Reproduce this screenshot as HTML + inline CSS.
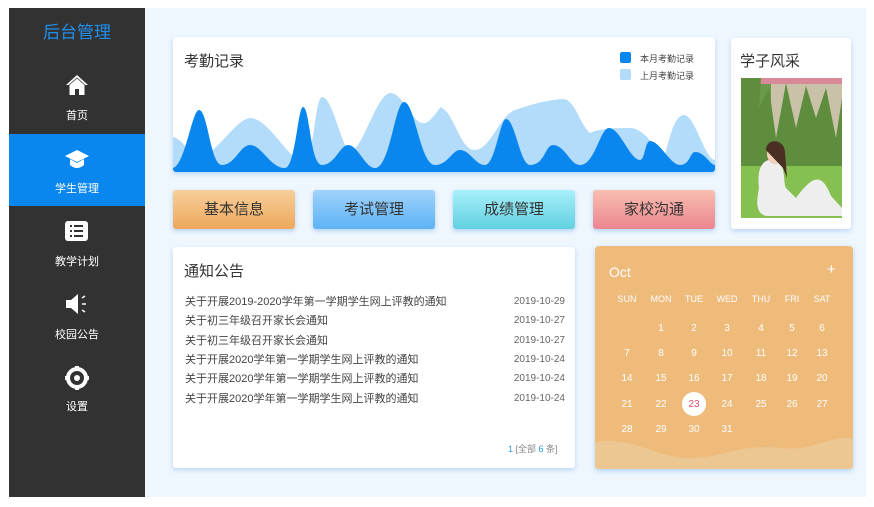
<!DOCTYPE html>
<html><head><meta charset="utf-8"><style>
*{margin:0;padding:0;box-sizing:border-box}
body{width:874px;height:507px;background:#fff;position:relative;overflow:hidden;font-family:"Liberation Sans","Noto Sans CJK SC",sans-serif}
.a{position:absolute}
#side{left:9px;top:8px;width:136px;height:489px;background:#323232}
#main{left:145px;top:8px;width:721px;height:489px;background:#eef6fe}
.card{background:#fff;border-radius:3px;box-shadow:0 2px 5px rgba(120,180,230,.45)}
.nav{position:absolute;left:0;width:136px;text-align:center;color:#fff;font-size:11px}
.btn{position:absolute;top:190px;width:122px;height:39px;border-radius:3px;text-align:center;line-height:39px;font-size:15px;color:#333;box-shadow:0 2px 4px rgba(120,180,230,.5)}
.row{position:absolute;left:185px;width:380px;font-size:11px;line-height:14px;color:#444}
.row span{position:absolute;right:0;top:0;color:#666;font-size:10px;line-height:14px}
.cal{position:absolute;color:#fff;font-size:10px;text-align:center;width:30px}
</style></head><body>
<div id="side" class="a">
 <div class="a" style="left:0;top:10px;width:136px;text-align:center;color:#1e8ff0;font-size:17px">后台管理</div>
 <svg class="a" style="left:56px;top:66px" width="24" height="22" viewBox="0 0 24 22"><path d="M12 1 L1 11 L3.5 11 L12 3.5 L20.5 11 L23 11Z" fill="#fff"/><path d="M4.5 11 L12 4.5 L19.5 11 V21 H14 V15 H10 V21 H4.5Z" fill="#fff"/></svg>
 <div class="nav" style="top:99px">首页</div>
 <div class="a" style="left:0;top:126px;width:136px;height:72px;background:#0a87ee"></div>
 <svg class="a" style="left:55px;top:140px" width="26" height="24" viewBox="0 0 26 24"><path d="M13 2 L25 8 L13 14 L1 8Z" fill="#fff"/><path d="M6 11 V17 Q13 23 20 17 V11 L13 15Z" fill="#fff"/></svg>
 <div class="nav" style="top:172px">学生管理</div>
 <div class="a" style="left:56px;top:213px;width:23px;height:20px;background:#fff;border-radius:3px"></div>
 <svg class="a" style="left:56px;top:213px" width="23" height="20"><g fill="#323232"><rect x="5" y="4" width="2" height="2"/><rect x="9" y="4" width="9" height="2"/><rect x="5" y="9" width="2" height="2"/><rect x="9" y="9" width="9" height="2"/><rect x="5" y="14" width="2" height="2"/><rect x="9" y="14" width="9" height="2"/></g></svg>
 <div class="nav" style="top:245px">教学计划</div>
 <svg class="a" style="left:56px;top:285px" width="24" height="22"><path d="M1 7 H6 L13 1 V21 L6 15 H1Z" fill="#fff"/><path d="M17 5 L20 3 M17 11 H21 M17 17 L20 19" stroke="#fff" stroke-width="1.5"/></svg>
 <div class="nav" style="top:318px">校园公告</div>
 <svg class="a" style="left:55px;top:357px" width="26" height="26" viewBox="0 0 26 26"><circle cx="13" cy="13" r="9" fill="none" stroke="#fff" stroke-width="4"/><circle cx="13" cy="13" r="3" fill="#fff"/><g stroke="#fff" stroke-width="4"><path d="M13 1 V5 M13 21 V25 M1 13 H5 M21 13 H25"/></g></svg>
 <div class="nav" style="top:390px">设置</div>
</div>
<div id="main" class="a"></div>

<div class="a card" style="left:173px;top:37px;width:542px;height:135px;overflow:hidden">
 <div class="a" style="left:11px;top:13px;font-size:15px;color:#333">考勤记录</div>
 <div class="a" style="left:447px;top:15px;width:11px;height:11px;border-radius:2px;background:#0a87ee"></div>
 <div class="a" style="left:467px;top:15px;font-size:9px;color:#444">本月考勤记录</div>
 <div class="a" style="left:447px;top:32px;width:11px;height:11px;border-radius:2px;background:#b3dcfa"></div>
 <div class="a" style="left:467px;top:32px;font-size:9px;color:#444">上月考勤记录</div>
 <svg class="a" style="left:0;top:0" width="542" height="135" viewBox="173 37 542 135">
  <path d="M173 137 C185 140 190 158 200 158 C220 150 235 120 250 118 C270 118 290 165 305 160 C315 150 315 98 322 97 C332 97 340 140 348 150 C360 160 375 95 390 93 C405 92 415 135 430 120 C440 110 440 105 442 108 C455 115 460 150 475 150 C490 150 500 115 515 110 C530 105 545 100 563 99 C575 99 580 125 590 133 C600 128 620 128 630 128 C645 128 655 150 665 155 C670 135 675 115 684 115 C695 115 705 160 715 160 V172 H173Z" fill="#b3dcfa"/>
  <path d="M173 168 C185 165 192 110 199 110 C208 110 210 165 222 165 C235 165 240 145 250 145 C262 145 270 168 285 168 C295 168 298 107 303 107 C310 107 310 165 322 165 C335 165 340 145 348 145 C358 145 365 168 375 168 C390 168 395 102 404 102 C415 102 420 165 435 165 C448 165 452 150 460 150 C470 150 475 165 485 165 C495 165 500 119 506 119 C515 119 520 165 530 165 C545 165 545 145 553 145 C565 145 570 165 580 165 C595 165 600 128 609 128 C620 128 630 160 640 160 C645 160 645 141 650 141 C660 141 670 165 680 165 C690 165 690 152 695 152 C705 152 710 165 715 165 V172 H173Z" fill="#0a87ee"/>
 </svg>
</div>

<div class="btn" style="left:173px;background:linear-gradient(#f7cf9a,#eda85c)">基本信息</div>
<div class="btn" style="left:313px;background:linear-gradient(#9fd3fb,#5db2f5)">考试管理</div>
<div class="btn" style="left:453px;background:linear-gradient(#a8f0fb,#62d0e0)">成绩管理</div>
<div class="btn" style="left:593px;background:linear-gradient(#f8bfb0,#ec8590)">家校沟通</div>

<div class="a card" style="left:731px;top:38px;width:120px;height:191px">
 <div class="a" style="left:9px;top:12px;font-size:15px;color:#333">学子风采</div>
 <svg class="a" style="left:10px;top:40px" width="101" height="140">
  <rect width="101" height="140" fill="#6a9a4c"/>
  <rect width="101" height="6" fill="#d98a98"/>
  <rect x="30" y="6" width="71" height="80" fill="#c9c2a8"/>
  <path d="M0 0 L20 0 L18 30 L28 10 L35 60 L45 5 L55 50 L65 8 L75 40 L85 10 L95 60 L101 20 V100 H0Z" fill="#5f8d3e"/>
  <rect y="88" width="101" height="52" fill="#86c050"/>
  <path d="M18 110 C15 85 25 80 35 82 C45 85 42 105 45 110 L55 120 C70 100 80 92 90 118 L101 130 V138 H25 C15 135 15 125 18 110Z" fill="#eee"/>
  <ellipse cx="34" cy="76" rx="8" ry="10" fill="#f2d0b8"/>
  <path d="M25 72 C25 60 43 60 44 74 L46 100 L42 90 Z" fill="#4a2f22"/>
 </svg>
</div>

<div class="a card" style="left:173px;top:247px;width:402px;height:221px">
 <div class="a" style="left:11px;top:13px;font-size:15px;color:#333">通知公告</div>
</div>
<div class="row" style="top:295px">关于开展2019-2020学年第一学期学生网上评教的通知<span>2019-10-29</span></div>
<div class="row" style="top:314px">关于初三年级召开家长会通知<span>2019-10-27</span></div>
<div class="row" style="top:334px">关于初三年级召开家长会通知<span>2019-10-27</span></div>
<div class="row" style="top:353px">关于开展2020学年第一学期学生网上评教的通知<span>2019-10-24</span></div>
<div class="row" style="top:372px">关于开展2020学年第一学期学生网上评教的通知<span>2019-10-24</span></div>
<div class="row" style="top:392px">关于开展2020学年第一学期学生网上评教的通知<span>2019-10-24</span></div>
<div class="a" style="left:508px;top:442px;font-size:9px;color:#888"><b style="color:#2a9bf0;font-weight:normal">1</b> [全部 <b style="color:#2a9bf0;font-weight:normal">6</b> 条]</div>

<div class="a" style="left:595px;top:246px;width:258px;height:223px;background:#efbb7b;border-radius:4px;box-shadow:0 2px 5px rgba(120,180,230,.5);overflow:hidden">
 <svg class="a" style="left:0;top:190px" width="258" height="33"><path d="M0 6 C40 0 60 22 95 22 C130 22 140 8 185 12 C220 16 235 -2 258 3 V33 H0Z" fill="#ecc792"/></svg>
 <div class="a" style="left:14px;top:18px;color:#fff;font-size:14px">Oct</div>
 <div class="a" style="left:232px;top:15px;color:#fff;font-size:15px">+</div>
</div>
<div id="cal"></div>
<script>
var d=["SUN","MON","TUE","WED","THU","FRI","SAT"],xs=[627,661,694,727,761,792,822],h="";
for(var i=0;i<7;i++)h+='<div class="cal" style="left:'+(xs[i]-15)+'px;top:294px;font-size:9px">'+d[i]+'</div>';
var ys=[323,348,373,399,424];
for(var n=1;n<=31;n++){var p=n+0,c=p%7,r=Math.floor(p/7);
 if(n==23){h+='<div class="a" style="left:'+(xs[c]-12)+'px;top:'+(ys[r]-7)+'px;width:24px;height:24px;border-radius:50%;background:#fff"></div>';
 h+='<div class="cal" style="left:'+(xs[c]-15)+'px;top:'+ys[r]+'px;color:#e0506a">23</div>';}
 else h+='<div class="cal" style="left:'+(xs[c]-15)+'px;top:'+ys[r]+'px">'+n+'</div>';}
document.getElementById("cal").innerHTML=h;
</script>
</body></html>
